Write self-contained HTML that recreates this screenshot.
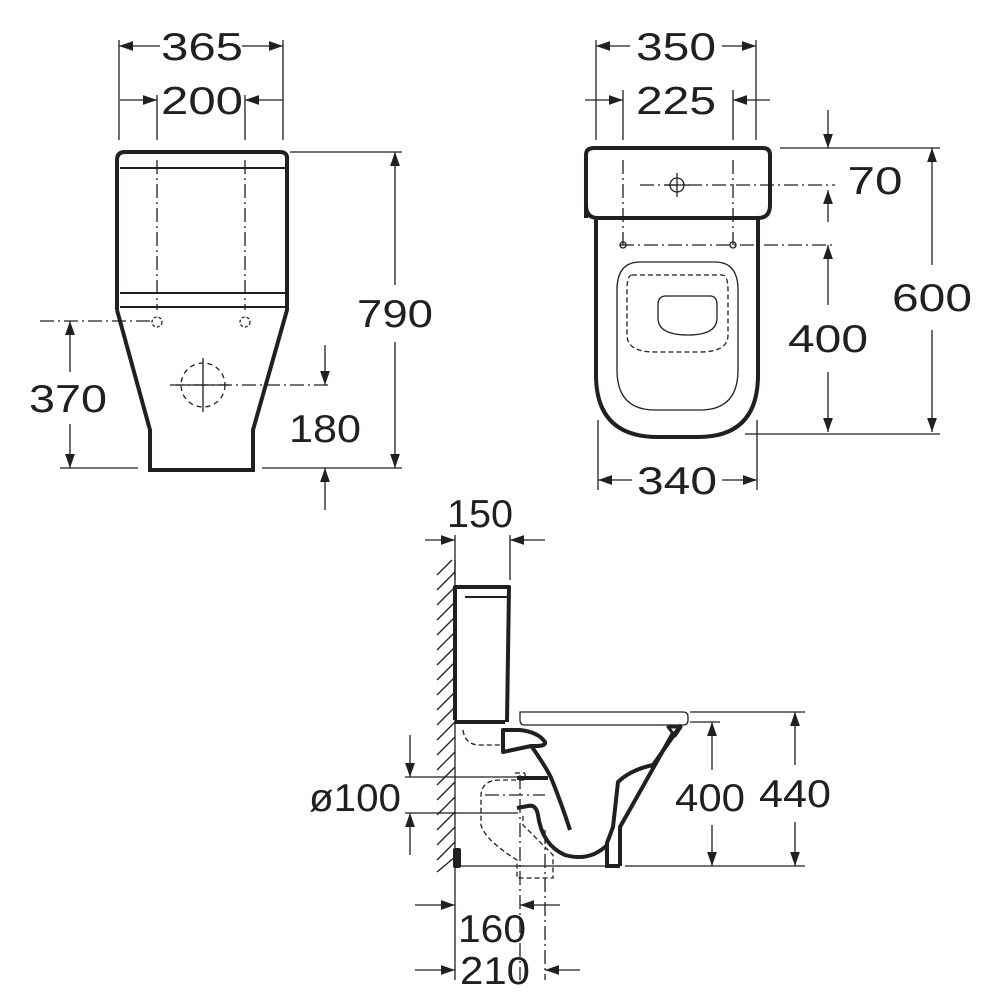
<!DOCTYPE html>
<html><head><style>body{margin:0;background:#fff}svg{display:block}text{font-family:"Liberation Sans",sans-serif;font-size:39px;fill:#231f20}</style></head>
<body>
<svg width="1005" height="1005" viewBox="0 0 1005 1005">
<defs>
<marker id="a" viewBox="0 0 10 10" refX="10" refY="5" markerWidth="14" markerHeight="14" markerUnits="userSpaceOnUse" orient="auto-start-reverse"><path d="M0,1.5 L10,5 L0,8.5 Z" fill="#231f20"/></marker>
</defs>
<g stroke="#231f20" fill="none">
<!-- FRONT VIEW -->
<g stroke-width="1.3">
<line x1="119" y1="40" x2="119" y2="140"/><line x1="283" y1="40" x2="283" y2="140"/>
<line x1="157" y1="95" x2="157" y2="140"/><line x1="245" y1="95" x2="245" y2="140"/>
<line x1="119" y1="46" x2="160" y2="46" marker-start="url(#a)"/><line x1="242" y1="46" x2="283" y2="46" marker-end="url(#a)"/>
<line x1="120" y1="100" x2="157" y2="100" marker-end="url(#a)"/><line x1="283" y1="100" x2="245" y2="100" marker-end="url(#a)"/>
<path d="M157 160V310M245 160V310" stroke-dasharray="14 4 2 4"/>
<line x1="290" y1="152" x2="402" y2="152"/><line x1="262" y1="468" x2="402" y2="468"/>
<line x1="395" y1="152" x2="395" y2="285" marker-start="url(#a)"/><line x1="395" y1="342" x2="395" y2="468" marker-end="url(#a)"/>
<path d="M40 321H150" stroke-dasharray="14 4 2 4"/>
<line x1="60" y1="468" x2="138" y2="468"/>
<line x1="70" y1="321" x2="70" y2="372" marker-start="url(#a)"/><line x1="70" y1="424" x2="70" y2="468" marker-end="url(#a)"/>
<path d="M170 385H330" stroke-dasharray="14 4 2 4"/>
<line x1="325" y1="345" x2="325" y2="385" marker-end="url(#a)"/><line x1="325" y1="510" x2="325" y2="468" marker-end="url(#a)"/>
<circle cx="203" cy="385" r="22" stroke-dasharray="5 4"/>
<path d="M203 358V412M176 385H230"/>
<circle cx="157" cy="322" r="5" stroke-dasharray="3 2"/><circle cx="245" cy="322" r="5" stroke-dasharray="3 2"/>
<line x1="120" y1="168" x2="285" y2="168" stroke-width="2"/><line x1="120" y1="293" x2="285" y2="293" stroke-width="2"/><line x1="120" y1="307" x2="285" y2="307" stroke-width="2"/>
</g>
<path d="M117 310V160Q117 152 125 152H280Q288 152 287 160V310L253 430V470H150V430L117 310" stroke-width="4"/>
<!-- TOP VIEW -->
<g stroke-width="1.3">
<line x1="596" y1="40" x2="596" y2="140"/><line x1="756" y1="40" x2="756" y2="140"/>
<line x1="623" y1="90" x2="623" y2="140"/><line x1="733" y1="90" x2="733" y2="140"/>
<line x1="596" y1="46" x2="630" y2="46" marker-start="url(#a)"/><line x1="722" y1="46" x2="756" y2="46" marker-end="url(#a)"/>
<line x1="585" y1="100" x2="623" y2="100" marker-end="url(#a)"/><line x1="770" y1="100" x2="733" y2="100" marker-end="url(#a)"/>
<path d="M623 160V245M733 160V245M640 185H835M620 245H835" stroke-dasharray="14 4 2 4"/>
<circle cx="677" cy="185" r="7"/><path d="M677 173V197M665 185H689"/>
<circle cx="623" cy="245" r="3"/><circle cx="733" cy="245" r="3"/>
<line x1="780" y1="148" x2="940" y2="148"/><line x1="745" y1="434" x2="940" y2="434"/>
<line x1="828" y1="110" x2="828" y2="148" marker-end="url(#a)"/><line x1="828" y1="222" x2="828" y2="190" marker-end="url(#a)"/>
<line x1="828" y1="245" x2="828" y2="305" marker-start="url(#a)"/><line x1="828" y1="372" x2="828" y2="432" marker-end="url(#a)"/>
<line x1="932" y1="148" x2="932" y2="265" marker-start="url(#a)"/><line x1="932" y1="330" x2="932" y2="432" marker-end="url(#a)"/>
<line x1="598" y1="420" x2="598" y2="490"/><line x1="757" y1="420" x2="757" y2="490"/>
<line x1="598" y1="480" x2="632" y2="480" marker-start="url(#a)"/><line x1="722" y1="480" x2="757" y2="480" marker-end="url(#a)"/>
<path d="M640 262H715Q738 262 738 290V370Q738 410 700 410H655Q617 410 617 370V290Q617 262 640 262Z"/>
<path d="M632 275H722Q728 275 728 290V335Q728 352 700 352H655Q627 352 627 335V290Q627 275 632 275Z" stroke-dasharray="5 3"/>
<path d="M666 296H710Q717 296 717 305V318Q717 335 688 335Q658 335 658 318V305Q658 296 666 296Z"/>
</g>
<path d="M586 218V155Q586 148 594 148H763Q770 148 770 155V205Q770 218 758 218H598Q586 218 586 205" stroke-width="4"/>
<path d="M596 218V375Q596 437 658 437H698Q758 437 758 375V218" stroke-width="4"/>
<!-- SIDE VIEW -->
<g stroke-width="1.3">
<line x1="455" y1="535" x2="455" y2="580"/><line x1="510" y1="535" x2="510" y2="580"/>
<line x1="425" y1="540" x2="455" y2="540" marker-end="url(#a)"/><line x1="545" y1="540" x2="510" y2="540" marker-end="url(#a)"/>
<path d="M437 575L452 560M437 590L455 572M437 605L455 587M437 620L455 602M437 635L455 617M437 650L455 632M437 665L455 647M437 680L455 662M437 695L455 677M437 710L455 692M437 725L455 707M437 740L455 722M437 755L455 737M437 770L455 752M437 785L455 767M437 800L455 782M437 815L455 797M437 830L455 812M437 845L455 827M437 860L455 842M437 872L455 857"/>
<line x1="455" y1="560" x2="455" y2="980"/>
<line x1="455" y1="866" x2="605" y2="866"/><line x1="625" y1="866" x2="805" y2="866"/>
<line x1="690" y1="712" x2="805" y2="712"/><line x1="690" y1="722" x2="720" y2="722"/>
<line x1="795" y1="712" x2="795" y2="765" marker-start="url(#a)"/><line x1="795" y1="822" x2="795" y2="866" marker-end="url(#a)"/>
<line x1="712" y1="722" x2="712" y2="770" marker-start="url(#a)"/><line x1="712" y1="825" x2="712" y2="866" marker-end="url(#a)"/>
<line x1="405" y1="777" x2="518" y2="777"/><line x1="405" y1="813" x2="518" y2="813"/>
<line x1="410" y1="735" x2="410" y2="777" marker-end="url(#a)"/><line x1="410" y1="855" x2="410" y2="813" marker-end="url(#a)"/>
<path d="M485 795H545M520 775V980M545 830V980" stroke-dasharray="14 4 2 4"/>
<line x1="415" y1="905" x2="455" y2="905" marker-end="url(#a)"/><line x1="560" y1="905" x2="520" y2="905" marker-end="url(#a)"/>
<line x1="415" y1="970" x2="455" y2="970" marker-end="url(#a)"/><line x1="580" y1="970" x2="545" y2="970" marker-end="url(#a)"/>
<path d="M463 730Q465 745 480 745H503M515 773H525M525 773V780H500Q482 780 481 795V825Q485 840 517 860V878H553V855L523 825V813" stroke-dasharray="5 3"/>
<path d="M520 712H683Q688 712 688 717V720Q688 725 683 725H525Q520 725 520 720Z"/>
<path d="M465 597H508" stroke-width="2"/>
</g>
<g stroke-width="4" stroke-linejoin="round">
<path d="M455 720V587H509L507 722"/>
<line x1="455" y1="722" x2="505" y2="722"/>
<path d="M503 730H520Q538 732 545 742Q546 746 536 746L531 746L503 752Z"/>
<path d="M532 747Q548 770 552 780Q562 805 570 830"/>
<path d="M517 778H548"/>
<path d="M517 808L528 806Q536 804 538 815Q542 845 565 855Q590 862 607 845"/>
<path d="M607 866V843L613 827L618 782Q630 770 653 765L681 725"/>
<path d="M620 866V843V827L673 733"/>
<line x1="605" y1="866" x2="620" y2="866"/>
<path d="M668 727H681L675 736Z" stroke-width="3"/>
<rect x="455" y="850" width="4" height="16" fill="#231f20"/>
</g>
</g>
<g text-anchor="middle" lengthAdjust="spacingAndGlyphs">
<text x="202" y="60" textLength="82" lengthAdjust="spacingAndGlyphs">365</text><text x="202" y="114" textLength="82" lengthAdjust="spacingAndGlyphs">200</text>
<text x="395" y="327" textLength="76" lengthAdjust="spacingAndGlyphs">790</text><text x="68" y="412" textLength="78" lengthAdjust="spacingAndGlyphs">370</text><text x="325" y="442" textLength="72" lengthAdjust="spacingAndGlyphs">180</text>
<text x="676" y="60" textLength="80" lengthAdjust="spacingAndGlyphs">350</text><text x="676" y="114" textLength="80" lengthAdjust="spacingAndGlyphs">225</text>
<text x="875" y="194" textLength="55" lengthAdjust="spacingAndGlyphs">70</text><text x="828" y="352" textLength="80" lengthAdjust="spacingAndGlyphs">400</text><text x="932" y="311" textLength="80" lengthAdjust="spacingAndGlyphs">600</text><text x="677" y="494" textLength="80" lengthAdjust="spacingAndGlyphs">340</text>
<text x="480" y="527" textLength="66" lengthAdjust="spacingAndGlyphs">150</text><text x="710" y="811" textLength="70" lengthAdjust="spacingAndGlyphs">400</text><text x="795" y="807" textLength="72" lengthAdjust="spacingAndGlyphs">440</text>
<text x="355" y="811" textLength="92" lengthAdjust="spacingAndGlyphs">ø100</text><text x="492" y="942" textLength="68" lengthAdjust="spacingAndGlyphs">160</text><text x="495" y="984" textLength="70" lengthAdjust="spacingAndGlyphs">210</text>
</g>
</svg>
</body></html>
